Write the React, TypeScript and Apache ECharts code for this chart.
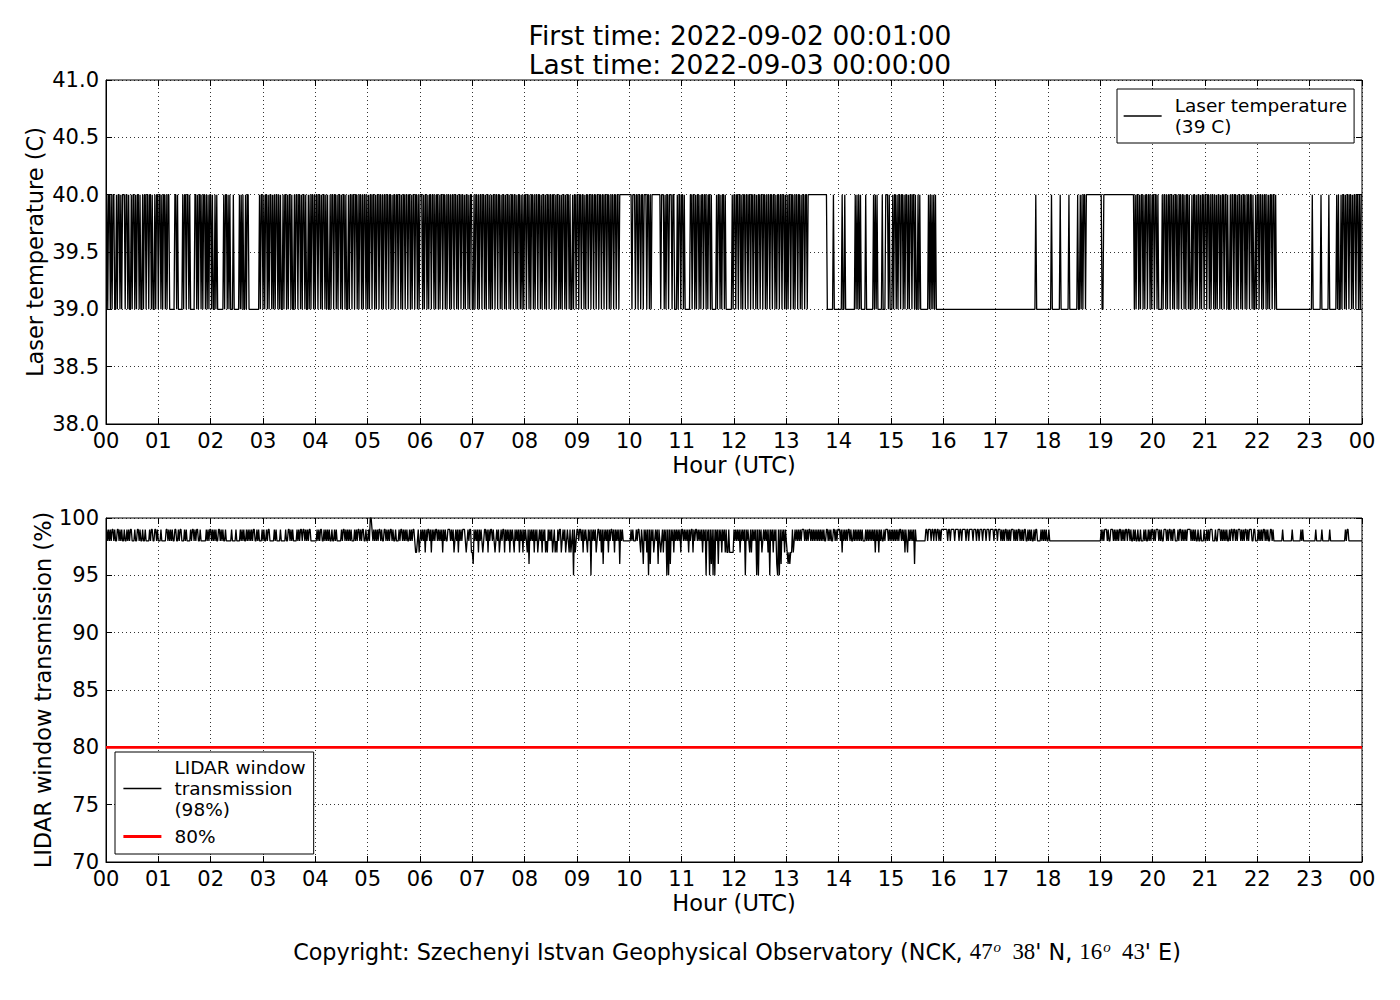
import React, { useEffect, useRef } from 'react';
import * as echarts from 'echarts';

// ---------- data ----------
const hourTicks = ['00','01','02','03','04','05','06','07','08','09','10','11','12','13','14','15','16','17','18','19','20','21','22','23','00'];

// Laser temperature, one char per minute: '0' = 39 C, '1' = 40 C
const laserTempByHour = [
  '1011010110 0101101011 1011010010 1101011010 0101101101 1010010110',
  '1101011010 1100000011 0100000101 1011010000 0110101101 0110101011',
  '0100101000 0000101101 0100010000 0010101001 0110000000 0000010110',
  '1011010110 1010110101 0010110101 1010010110 1101011010 0101011010',
  '1101101011 0101001011 0110101101 0110100101 1011011010 1101011010',
  '1011011010 1101101011 0110110101 1011011010 1101101101 0110110101',
  '1101011010 1101101011 0101101101 0110101101 1010110110 1011010110',
  '0101101011 0110101101 0101101101 1010110101 1010110110 1011010101',
  '1011010110 1011011010 1101011011 0110101101 0101101011 0100101101',
  '1011011010 1101101101 1011011011 0110110101 1011011011 1111111111',
  '1101110110 1101101110 1101011111 1111101110 1011011101 1000101101',
  '1010000001 1011010110 1011011010 1101000001 0110101101 0000000101',
  '1011011010 1101101101 1011010110 1101101011 0110110101 1011011010',
  '1011011010 1101101011 0110111111 1111111111 1111110000 0001000000',
  '0001001000 0000000010 1010100000 1000000001 0101000001 0001110100',
  '0101101011 0110101101 0110110100 1010000000 0010101010 1000000000',
  '0000000000 0000000000 0000000000 0000000000 0000000000 0000000000',
  '0000000000 0000000000 0000000000 0000000000 0000010000 0000000000',
  '0001000000 0001000000 0001000000 0001001010 1101111111 1111111111',
  '1001111111 1111111111 1111111111 1111111101 0110101101 0110110101',
  '1011010000 1011010110 1101011010 1101101011 0100101101 0110101101',
  '1011010110 1010110101 1011010010 1101101011 0101101011 0110100101',
  '1011010110 1010110110 1000000000 0000000000 0000000000 0000000000',
  '0010000000 0010000000 0100000000 1010010110 1011011010 1101101011',
];

// LIDAR window transmission, one char per minute: digit d = 90 + d %, 'T' = 100 %
const transmissionByHour = [
  '9898989989 8899898988 9889898998 8898899898 8988988889 8998899898',
  '8898888899 8989898899 8898998889 8988889899 8989988988 8888989899',
  '8989898899 8989889888 8889888898 8889898988 9898989899 8898988898',
  '9889899888 8898988889 8888898899 8989888898 9899899898 9899888888',
  '8989899889 8989898898 8989888889 8998989898 9888989899 8989988988',
  '98TT989898 9899898899 8989899898 8988898998 9898988989 8998778978',
  '9898979899 8979898998 9898979898 8999898978 9897989899 9878989977',
  '6989897989 8789989798 9989878989 7898997989 8979898798 9897989798',
  '9879698989 7989789897 9897879898 9789787989 9789897898 7978959789',
  '9899897989 8798959898 9789989796 9898979899 8979898969 8988888888',
  '8989888989 9879869897 9596989789 8969878979 8959596989 7989898979',
  '9898989798 9979899898 9897989598 9596959598 9698979897 9779777779',
  '8989897989 8959898797 9898959598 9789898979 5989798965 9596989798',
  '7676779789 8989898999 8989899898 9898989898 9898899898 9889989899',
  '9897989898 9989889898 9898989888 9898989898 9798979898 8989998989',
  '8989898989 9898979879 8989896988 8888888889 9899989989 9899898999',
  '9999899899 9989999899 8999989989 9998999899 8999899989 9989999899',
  '9899989898 9989898999 8989899898 9899889898 9889899888 8989898988',
  '9888888888 8888888888 8888888888 8888888888 8888888888 8888888888',
  '9898999898 8999898989 8998989899 8998988989 8898898889 8988989899',
  '8989998989 8899989899 8989988898 9989898989 9998989898 8988988898',
  '8989899988 8988999898 9898988989 9899898999 8989899898 9998899888',
  '9898989989 8988998988 8888888898 8888888889 8888888889 8988888888',
  '8888889888 8889888888 8898888888 8888888888 9899888888 8888888888',
];

const thresholdValue = 80;
const tempTicks = ['38.0', '38.5', '39.0', '39.5', '40.0', '40.5', '41.0'];
const transTicks = ['70', '75', '80', '85', '90', '95', '100'];

const titleText = 'First time: 2022-09-02 00:01:00\nLast time: 2022-09-03 00:00:00';
const tempSeriesName = 'Laser temperature\n(39 C)';
const transSeriesName = 'LIDAR window\ntransmission\n(98%)';
const thresholdName = '80%';

// ---------- helpers ----------
function decode(rows: string[], map: (c: string) => number): [number, number][] {
  const out: [number, number][] = [];
  rows.forEach((row, h) => {
    const s = row.replace(/\s+/g, '');
    for (let j = 0; j < s.length; j++) out.push([h + (j + 1) / s.length, map(s[j])]);
  });
  return out;
}

const FONT = 'DejaVu Sans';
const labelText = { color: '#000', fontSize: 21, fontFamily: FONT };
const nameText = { color: '#000', fontSize: 22.5, fontFamily: FONT };

function xAxes(gridIndex: number) {
  return [
    {
      type: 'value', gridIndex, min: 0, max: 24, interval: 1, position: 'bottom',
      axisLine: { show: true, onZero: false, lineStyle: { color: '#000', width: 1 } },
      axisTick: { show: true, inside: true, length: 6, lineStyle: { color: '#000', width: 1 } },
      splitLine: { show: true, lineStyle: { color: '#000', width: 0.8, type: [1, 3] } },
      axisLabel: {
        ...labelText, margin: 6, showMinLabel: true, showMaxLabel: true, hideOverlap: false,
        formatter: (v: number) => hourTicks[Math.round(v)] ?? '',
      },
      name: 'Hour (UTC)', nameLocation: 'middle', nameGap: 29,
      nameTextStyle: nameText,
    },
    {
      type: 'value', gridIndex, min: 0, max: 24, interval: 1, position: 'top',
      axisLine: { show: false, onZero: false },
      axisTick: { show: true, inside: true, length: 6, lineStyle: { color: '#000', width: 1 } },
      splitLine: { show: false }, axisLabel: { show: false },
    },
  ];
}

function yAxes(gridIndex: number, min: number, max: number, interval: number, ticks: string[], name: string, nameGap: number) {
  return [
    {
      type: 'value', gridIndex, min, max, interval, position: 'left',
      axisLine: { show: true, onZero: false, lineStyle: { color: '#000', width: 1 } },
      axisTick: { show: true, inside: true, length: 6, lineStyle: { color: '#000', width: 1 } },
      splitLine: { show: true, lineStyle: { color: '#000', width: 0.8, type: [1, 3] } },
      axisLabel: {
        ...labelText, margin: 7, showMinLabel: true, showMaxLabel: true,
        formatter: (v: number) => ticks[Math.round((v - min) / interval)] ?? '',
      },
      name, nameLocation: 'middle', nameGap, nameMoveOverlap: false,
      nameTextStyle: nameText,
    },
    {
      type: 'value', gridIndex, min, max, interval, position: 'right',
      axisLine: { show: false, onZero: false },
      axisTick: { show: true, inside: true, length: 6, lineStyle: { color: '#000', width: 1 } },
      splitLine: { show: false }, axisLabel: { show: false },
    },
  ];
}

export default function App() {
  const ref = useRef<HTMLDivElement>(null);

  useEffect(() => {
    document.body.style.margin = '0';
    if (!ref.current) return;
    const chart = echarts.init(ref.current, undefined, { renderer: 'svg' });

    const tempData = decode(laserTempByHour, (c) => (c === '1' ? 40 : 39));
    const transData = decode(transmissionByHour, (c) => (c === 'T' ? 100 : 90 + Number(c)));
    const thresholdData: [number, number][] = [[0, thresholdValue], [24, thresholdValue]];

    const legendBase = {
      orient: 'vertical', selectedMode: false, itemWidth: 38, itemHeight: 14, itemGap: 6,
      borderColor: '#000', borderWidth: 1, backgroundColor: '#fff', borderRadius: 0,
      itemStyle: { opacity: 0 },
      lineStyle: { width: 'inherit' },
      textStyle: { color: '#000', fontSize: 18.5, lineHeight: 21, fontFamily: FONT, padding: [0, 0, 0, 8] },
    };

    chart.setOption({
      animation: false,
      backgroundColor: '#fff',
      title: [
        {
          text: titleText, left: 735, top: 16, textAlign: 'center',
          textStyle: { color: '#000', fontSize: 26.5, lineHeight: 29, fontWeight: 'normal', fontFamily: FONT },
        },
        {
          text: '{a|Copyright: Szechenyi Istvan Geophysical Observatory (NCK, }{m|47}{s|o}{m|  38}{a|\' N, }{m|16}{s|o}{m|  43}{a|\' E)}',
          left: 732, top: 934, textAlign: 'center',
          textStyle: {
            fontWeight: 'normal',
            rich: {
              a: { color: '#000', fontSize: 22.3, fontWeight: 'normal', fontFamily: FONT },
              m: { color: '#000', fontSize: 22.8, fontWeight: 'normal', fontFamily: 'Liberation Serif' },
              s: { color: '#000', fontSize: 15, fontWeight: 'normal', fontFamily: 'Liberation Serif', fontStyle: 'italic', verticalAlign: 'top', padding: [0, 0, 10, 1] },
            },
          },
        },
      ],
      grid: [
        { left: 106, top: 80, width: 1256, height: 344, show: true, borderColor: '#000', borderWidth: 1, containLabel: false },
        { left: 106, top: 518, width: 1256, height: 344, show: true, borderColor: '#000', borderWidth: 1, containLabel: false },
      ],
      xAxis: [...xAxes(0), ...xAxes(1)],
      yAxis: [
        ...yAxes(0, 38, 41, 0.5, tempTicks, 'Laser temperature (C)', 60),
        ...yAxes(1, 70, 100, 5, transTicks, 'LIDAR window transmission (%)', 52),
      ],
      legend: [
        { ...legendBase, left: 1117, top: 89, padding: [6, 7, 6, 6], data: [tempSeriesName] },
        { ...legendBase, left: 115, top: 752, padding: [5, 8, 7, 7], data: [transSeriesName, thresholdName] },
      ],
      series: [
        {
          name: tempSeriesName, type: 'line', xAxisIndex: 0, yAxisIndex: 0, data: tempData,
          symbol: 'none', showSymbol: false, silent: true,
          lineStyle: { color: '#000', width: 1.3 }, itemStyle: { color: '#000' },
        },
        {
          name: transSeriesName, type: 'line', xAxisIndex: 2, yAxisIndex: 2, data: transData,
          symbol: 'none', showSymbol: false, silent: true,
          lineStyle: { color: '#000', width: 1.3 }, itemStyle: { color: '#000' },
        },
        {
          name: thresholdName, type: 'line', xAxisIndex: 2, yAxisIndex: 2, data: thresholdData,
          symbol: 'none', showSymbol: false, silent: true,
          lineStyle: { color: '#ff0000', width: 2.8 }, itemStyle: { color: '#ff0000' },
        },
      ],
    });

    return () => chart.dispose();
  }, []);

  return <div ref={ref} style={{ width: 1400, height: 1000, position: 'absolute', left: 0, top: 0 }} />;
}
